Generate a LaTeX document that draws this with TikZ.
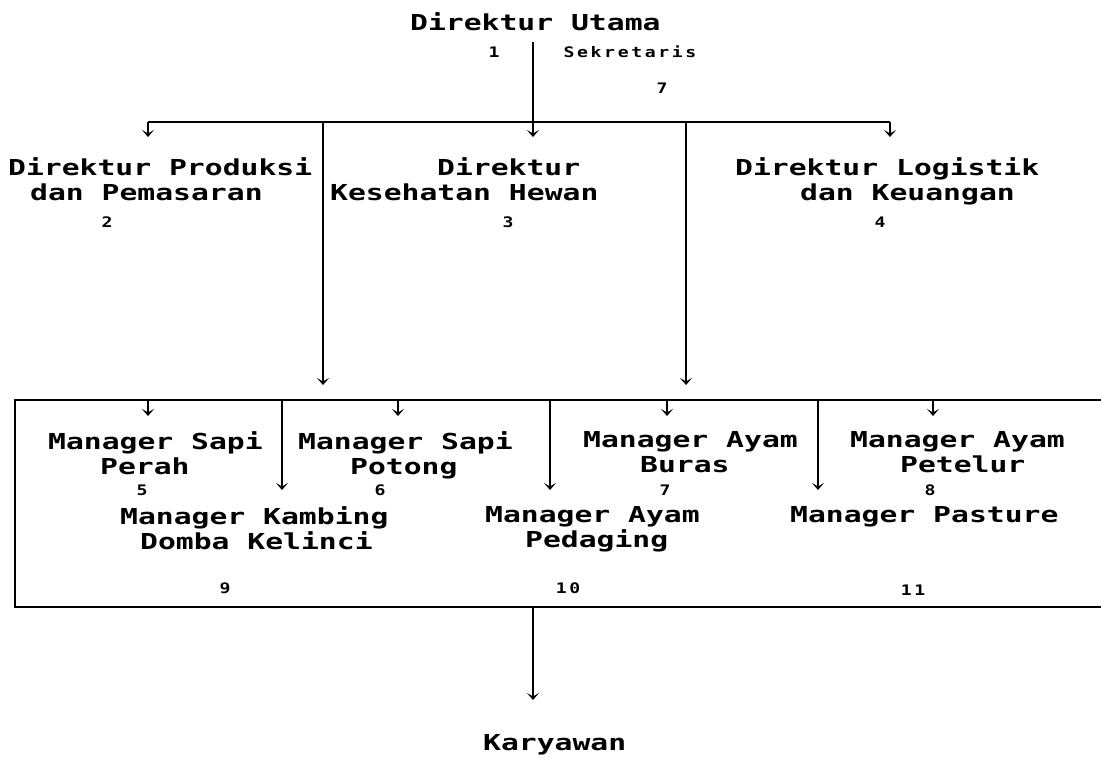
\documentclass[tikz,border=0pt]{standalone}
\usepackage{fontspec}
\usetikzlibrary{arrows.meta}
\newfontfamily\dotfont[FakeStretch=1.35]{DejaVu Sans Mono}
\newfontfamily\tinyfont[FakeStretch=1.25,LetterSpace=18]{DejaVu Sans Mono}
\tikzset{
  lbl/.style={font=\dotfont\bfseries\fontsize{22}{25}\selectfont, inner sep=0pt, align=left, anchor=north west},
  numlbl/.style={font=\tinyfont\bfseries\fontsize{14.5}{16}\selectfont, inner sep=0pt},
  conn/.style={line width=1.8pt},
  arr/.style={conn, -{Stealth[length=7pt,width=12pt,inset=3.5pt]}}
}
\begin{document}
\begin{tikzpicture}[x=1pt,y=-1pt]
\useasboundingbox (0,0) rectangle (1101,771);
% texts
\node[lbl, anchor=west] (utama) at (410,22) {Direktur Utama};
\node[numlbl] (n1) at (494,52) {1};
\node[numlbl] (sek) at (630,52) {Sekretaris};
\node[numlbl] (n7a) at (662,88) {7};

\node[lbl] (produksi) at (8,157) {Direktur Produksi\\\hspace*{22pt}dan Pemasaran};
\node[lbl] (kesehatan) at (330,157) {\hspace*{107pt}Direktur\\Kesehatan Hewan};
\node[lbl] (logistik) at (735,157) {Direktur Logistik\\\hspace*{65pt}dan Keuangan};
\node[numlbl] (n2) at (107,222) {2};
\node[numlbl] (n3) at (508,222) {3};
\node[numlbl] (n4) at (880,222) {4};

\node[lbl] (perah) at (48,431) {Manager Sapi\\\hspace*{52pt}Perah};
\node[lbl] (potong) at (298,431) {Manager Sapi\\\hspace*{52pt}Potong};
\node[lbl] (buras) at (583,431) {Manager Ayam\\\hspace*{57pt}Buras};
\node[lbl] (petelur) at (850,431) {Manager Ayam\\\hspace*{50pt}Petelur};
\node[numlbl] (n5) at (142,490) {5};
\node[numlbl] (n6) at (380,490) {6};
\node[numlbl] (n7b) at (665,490) {7};
\node[numlbl] (n8) at (930,490) {8};

\node[lbl] (kambing) at (120,506) {Manager Kambing\\\hspace*{20pt}Domba Kelinci};
\node[lbl] (pedaging) at (485,506) {Manager Ayam\\\hspace*{40pt}Pedaging};
\node[lbl] (pasture) at (790,506) {Manager Pasture};
\node[numlbl] (n9) at (225,588) {9};
\node[numlbl] (n10) at (568,588) {10};
\node[numlbl] (n11) at (913,590) {11};

\node[lbl, anchor=west] (karyawan) at (483,745) {Karyawan};

% coordinates
\coordinate (utop) at (533,42);
\coordinate (t1) at (533,137);
\coordinate (hl) at (148,122);
\coordinate (hr) at (890,122);
\coordinate (a2) at (148,137);
\coordinate (a4) at (890,137);
\coordinate (v1top) at (323,122);
\coordinate (v1) at (323,385);
\coordinate (v2top) at (686,122);
\coordinate (v2) at (686,385);
\coordinate (bTR) at (1101,400);
\coordinate (bTL) at (15,400);
\coordinate (bBL) at (15,607);
\coordinate (bBR) at (1101,607);
\coordinate (kbot) at (533,607);
\coordinate (ktip) at (533,700);

% connectors
\draw[arr] (utop) -- (t1);
\draw[conn] (hl) -- (hr);
\draw[arr] (hl) -- (a2);
\draw[arr] (hr) -- (a4);
\draw[arr] (v1top) -- (v1);
\draw[arr] (v2top) -- (v2);
\draw[conn] (bTR) -- (bTL) -- (bBL) -- (bBR);
\foreach \x in {148,398,667,933} {
  \draw[arr] (\x,400) -- (\x,416);
}
\foreach \x in {282,550,818} {
  \draw[arr] (\x,400) -- (\x,490);
}
\draw[arr] (kbot) -- (ktip);
\end{tikzpicture}
\end{document}
